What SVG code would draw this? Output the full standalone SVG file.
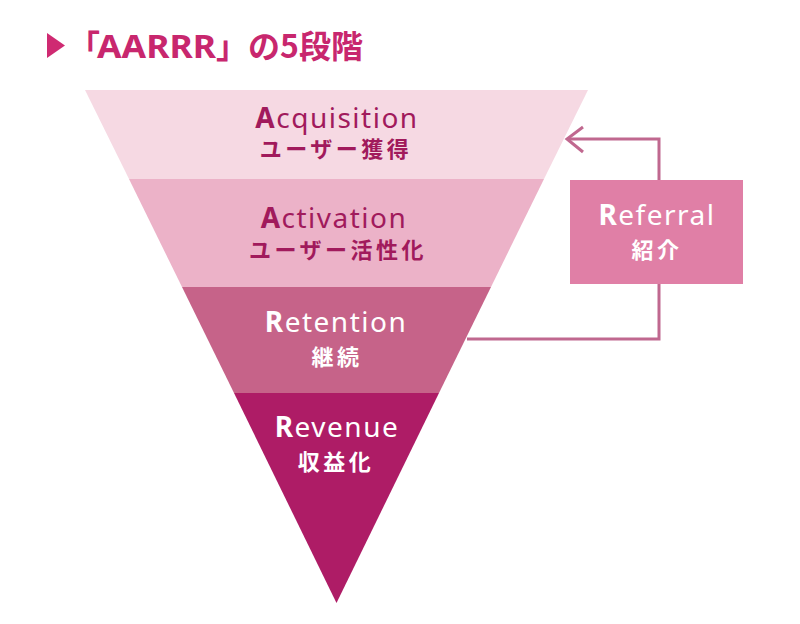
<svg xmlns="http://www.w3.org/2000/svg" width="800" height="624" viewBox="0 0 800 624">
<style>
.en{font-family:"Noto Sans","Noto Sans CJK JP",sans-serif;font-size:28px;text-anchor:middle;letter-spacing:1.5px}
.ja{font-family:"Noto Sans CJK JP",sans-serif;font-size:22px;font-weight:bold;letter-spacing:3.5px}
.b{font-weight:bold}
.dark{fill:#a11a5c}
.wh{fill:#ffffff}
.tt{font-family:"Noto Sans CJK JP",sans-serif;font-size:32px;font-weight:bold;fill:#c8276e}
.tl{font-family:"Noto Sans",sans-serif}
.conn{fill:none;stroke:#c0688f;stroke-width:3}
</style>
<rect width="800" height="624" fill="#ffffff"/>
<g id="title">
<polygon points="47,33 65,45.5 47,58" fill="#cf2a72"/>
<text class="tt" x="68" y="58">「<tspan class="tl" x="97" textLength="119" lengthAdjust="spacingAndGlyphs">AARRR</tspan><tspan x="216">」の5段階</tspan></text>
</g>
<g id="acquisition">
<polygon points="85,90 588,90 544,179 129,179" fill="#f6d9e3"/>
<text class="en dark" x="337" y="128"><tspan class="b">A</tspan>cquisition<tspan class="ja" x="336" y="157">ユーザー獲得</tspan></text>
</g>
<g id="activation">
<polygon points="129,179 544,179 491,287 182,287" fill="#ecb2c8"/>
<text class="en dark" x="334" y="228"><tspan class="b">A</tspan>ctivation<tspan class="ja" x="338" y="258">ユーザー活性化</tspan></text>
</g>
<g id="retention">
<polygon points="182,287 491,287 439,393 234,393" fill="#c66389"/>
<text class="en wh" x="336" y="332"><tspan class="b">R</tspan>etention<tspan class="ja" x="337" y="365">継続</tspan></text>
</g>
<g id="revenue">
<polygon points="234,393 439,393 336.5,603" fill="#ae1c66"/>
<text class="en wh" x="337" y="437" font-size="29"><tspan class="b">R</tspan>evenue<tspan class="ja" x="336" y="470">収益化</tspan></text>
</g>
<g id="referral">
<rect x="570" y="180" width="173" height="104" fill="#e07fa6"/>
<text class="en wh" x="657" y="225"><tspan class="b">R</tspan>eferral<tspan class="ja" x="657" y="258">紹介</tspan></text>
</g>
<g id="connectors">
<polyline class="conn" points="659,180 659,139 567,139"/>
<polyline class="conn" points="583,127 567,139 583,152"/>
<polyline class="conn" points="659,284 659,339 467,339"/>
</g>
</svg>
